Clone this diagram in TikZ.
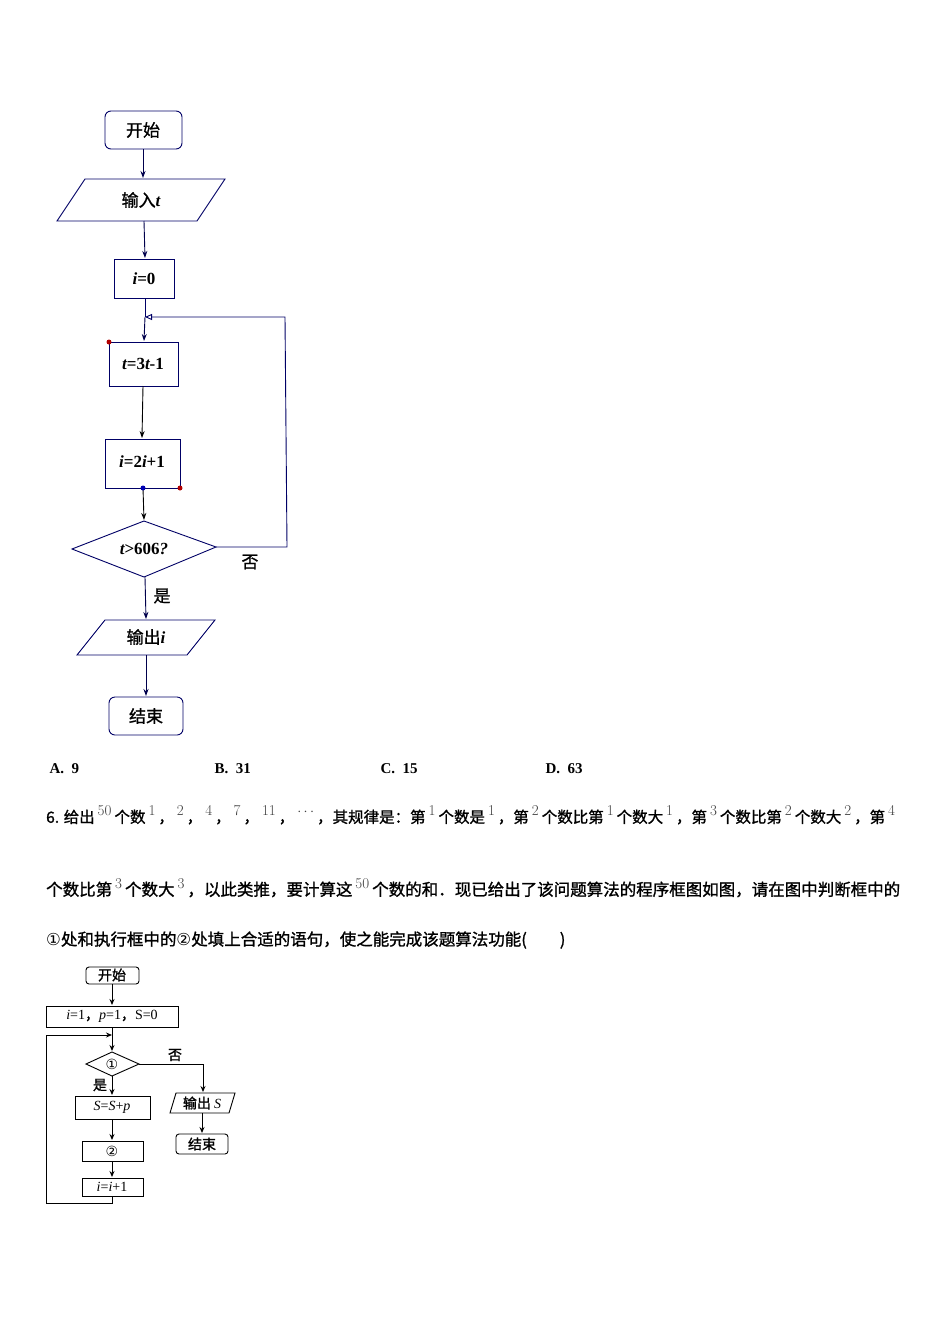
\documentclass[tikz,border=0pt]{standalone}
\usepackage{fontspec}
\setmainfont{Liberation Serif}
\newfontfamily\cjk[FakeBold=1.2]{Noto Sans CJK SC}
\newfontfamily\lm{Latin Modern Roman}
\newfontfamily\djv{DejaVu Sans}
\usetikzlibrary{shapes.geometric,arrows.meta}
\newcommand{\sx}[1]{\hspace{3pt}\raisebox{7pt}{\fontsize{15}{15}\selectfont\lm\color{black!75}#1}\hspace{3pt}}
\newcommand{\bi}[1]{{\rmfamily\bfseries\itshape #1}}
\newcommand{\br}[1]{{\rmfamily\bfseries #1}}
\begin{document}
\begin{tikzpicture}[x=1pt,y=-1pt,
  nv/.style={draw=blue!40!black,line width=0.9pt},
  ar/.style={-{Stealth[length=7pt,width=5pt]},line width=0.9pt,draw=blue!30!black},
  sm/.style={draw=black,line width=0.9pt},
  sar/.style={-{Stealth[length=6pt,width=5pt]},line width=0.9pt},
  tx/.style={font=\fontsize{17}{17}\selectfont}]
\useasboundingbox[fill=white] (0,0) rectangle (950,1344);
% top flowchart
\draw[nv,rounded corners=6pt] (105,111) rectangle (182,149);
\node[tx] (s) at (143,130) {\cjk 开始};
\draw[nv] (85,179) -- (225,179) -- (197,221) -- (57,221) -- cycle;
\node[tx] (in) at (141,200) {\cjk 输入\bi{t}};
\draw[nv] (114,259) rectangle (174,298);
\node[tx] (i0) at (144,279) {\bi{i}\br{=0}};
\draw[nv] (109,342) rectangle (178,386);
\node[tx] (t3) at (143,364) {\bi{t}\br{=3}\bi{t}\br{-1}};
\draw[nv] (105,439) rectangle (180,488);
\node[tx] (i2) at (142,462) {\bi{i}\br{=2}\bi{i}\br{+1}};
\draw[nv] (72,549) -- (144,521) -- (216,547) -- (144,577) -- cycle;
\node[tx] (d) at (144,549) {\bi{t}\br{>606}\bi{?}};
\draw[nv] (77,655) -- (105,620) -- (215,620) -- (187,655) -- cycle;
\node[tx] (out) at (146,637) {\cjk 输出\bi{i}};
\draw[nv,rounded corners=6pt] (109,697) rectangle (183,735);
\node[tx] (e) at (146,716) {\cjk 结束};
\coordinate (j) at (145,317);
\draw[ar] (143,149) -- (143,178);
\draw[ar] (144,221) -- (145,258);
\draw[nv] (145,298) -- (j);
\draw[ar] (j) -- (144,341);
\draw[ar,draw=black] (143,386) -- (142,438);
\draw[ar,draw=black] (143,488) -- (144,520);
\draw[ar] (145,577) -- (146,619);
\draw[ar] (146,655) -- (146,696);
\draw[nv,-{Triangle[open,length=7pt,width=6pt]}] (216,547) -- (287,547) -- (285,317) -- (j);
\fill[red!70!black] (109,342) circle (2.5pt) (180,488) circle (2.5pt);
\fill[blue!70!black] (143,488) circle (2.5pt);
\node[tx] (no1) at (250,562) {\cjk 否};
\node[tx] (yes1) at (162,596) {\cjk 是};
% options
\foreach \l/\v/\x in {A/9/46,B/31/211,C/15/377,D/63/542}
  \node[anchor=west,font=\bfseries\fontsize{15}{15}\selectfont] (opt\l) at (\x,769) {\l.\ \ \v};
% question
\node[anchor=west,font=\cjk\fontsize{15.5}{15.5}\selectfont,inner sep=0] (q1) at (46,815)
 {6. 给出\sx{50}个数\sx{1}，\sx{2}，\sx{4}，\sx{7}，\sx{11}，\sx{$\cdots$}，其规律是：第\sx{1}个数是\sx{1}，第\sx{2}个数比第\sx{1}个数大\sx{1}，第\sx{3}个数比第\sx{2}个数大\sx{2}，第\sx{4}};
\node[anchor=west,font=\cjk\fontsize{16.5}{16.5}\selectfont,inner sep=0] (q2) at (46,888)
 {个数比第\sx{3}个数大\sx{3}，以此类推，要计算这\sx{50}个数的和．现已给出了该问题算法的程序框图如图，请在图中判断框中的};
\node[anchor=west,font=\cjk\fontsize{16.5}{16.5}\selectfont,inner sep=0] (q3) at (46,940)
 {{\djv ①}处和执行框中的{\djv ②}处填上合适的语句，使之能完成该题算法功能(\qquad )};
% bottom flowchart
\begin{scope}[font=\fontsize{14}{14}\selectfont]
\draw[sm,rounded corners=3pt] (86,967) rectangle (139,984);
\node (bs) at (112,975) {\cjk 开始};
\draw[sm] (46,1006) rectangle (178,1027);
\node (init) at (112,1016.5) {\textit{i}=1{\cjk ，}\textit{p}=1{\cjk ，}S=0};
\draw[sm] (86,1064) -- (112,1052) -- (139,1064) -- (112,1076) -- cycle;
\node (d1) at (112,1064) {\djv ①};
\draw[sm] (75,1096) rectangle (150,1119);
\node (ss) at (112,1107.5) {\textit{S}=\textit{S}+\textit{p}};
\draw[sm] (82,1141) rectangle (143,1161);
\node (c2) at (112,1151) {\djv ②};
\draw[sm] (82,1178) rectangle (143,1196);
\node (ii) at (112,1187) {\textit{i}=\textit{i}+1};
\draw[sm] (176,1093) -- (235,1093) -- (229,1113) -- (170,1113) -- cycle;
\node (os) at (202,1103) {\cjk 输出 \textit{\rmfamily S}};
\draw[sm,rounded corners=3pt] (176,1134) rectangle (228,1154);
\node (be) at (202,1144) {\cjk 结束};
\node (no2) at (175,1055) {\cjk 否};
\node (yes2) at (100,1085) {\cjk 是};
\end{scope}
\coordinate (bj) at (112,1035);
\draw[sar] (112,984) -- (112,1005);
\draw[sm] (112,1027) -- (bj);
\draw[sar] (bj) -- (112,1051);
\draw[sar] (112,1076) -- (112,1095);
\draw[sar] (112,1119) -- (112,1140);
\draw[sar] (112,1161) -- (112,1177);
\draw[sar] (112,1196) -- (112,1203) -- (46,1203) -- (46,1035) -- (bj);
\draw[sar] (139,1064) -- (203,1064) -- (203,1092);
\draw[sar] (202,1113) -- (202,1133);
\end{tikzpicture}
\end{document}
